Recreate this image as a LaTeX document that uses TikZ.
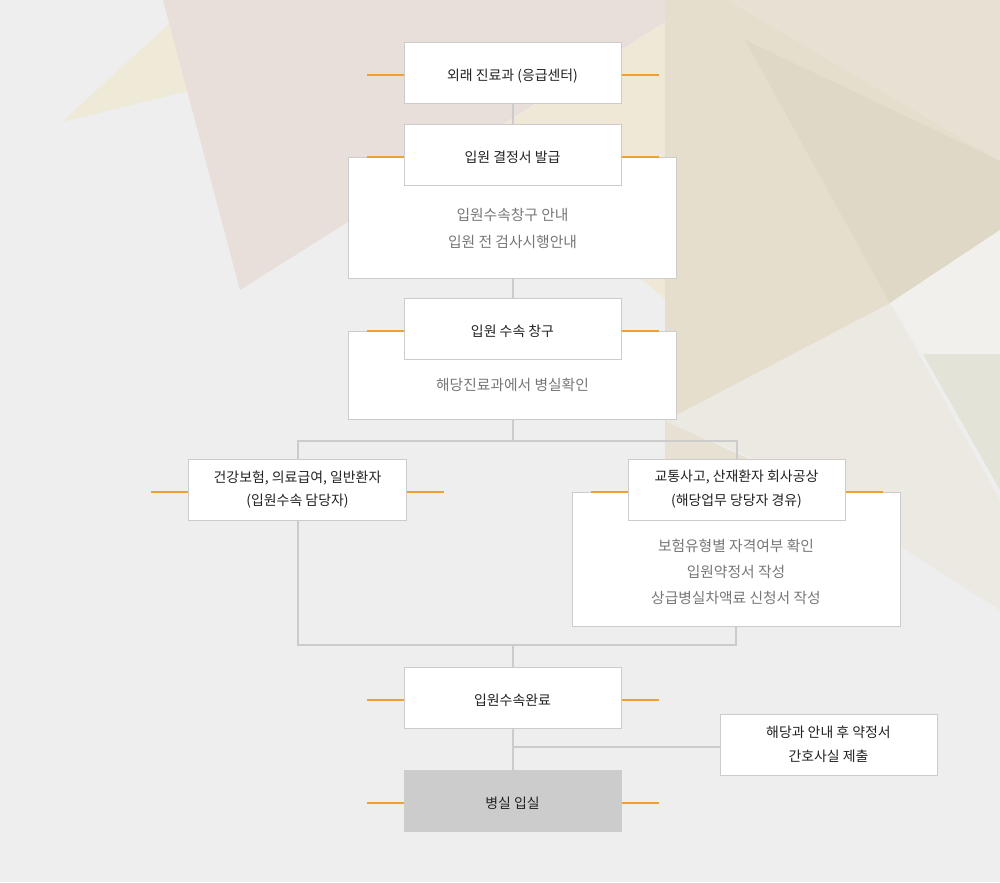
\documentclass[tikz,border=0pt]{standalone}
\usepackage{fontspec}
\setmainfont{Noto Sans CJK KR}
\usetikzlibrary{positioning,backgrounds,calc}

\definecolor{pagebg}{HTML}{EEEEEE}
\definecolor{boxline}{HTML}{CCCCCC}
\definecolor{tickorange}{HTML}{F0A030}
\definecolor{headtext}{HTML}{222222}
\definecolor{infogray}{HTML}{777777}
\definecolor{wardfill}{HTML}{CCCCCC}
\definecolor{creamA}{HTML}{EFE9D8}
\definecolor{pinkA}{HTML}{E8DFDB}
\definecolor{creamB}{HTML}{EFE8D7}
\definecolor{beigeA}{HTML}{E6DECD}
\definecolor{beigeB}{HTML}{E0D8C6}
\definecolor{beigeC}{HTML}{E7E1D4}
\definecolor{greyA}{HTML}{ECE9E3}
\definecolor{glare}{HTML}{F1F0EC}
\definecolor{sage}{HTML}{E3E4D7}

\begin{document}
\begin{tikzpicture}[
  x=0.25mm, y=-0.25mm,
  head/.style={rectangle, draw=boxline, line width=0.25mm, fill=#1,
               minimum width=54.25mm, minimum height=15.25mm, inner sep=2pt,
               align=center, text=headtext,
               font=\fontsize{9.9}{17}\selectfont},
  head/.default=white,
  oneline/.style={text height=1.3em, text depth=0.12em},
  info/.style={rectangle, draw=boxline, line width=0.25mm, fill=white,
               minimum width=82mm, minimum height=#1, anchor=north},
  infotext/.style={align=center, text=infogray,
                   font=\fontsize{10.5}{#1}\selectfont},
  infotext/.default=19pt,
  link/.style={line width=0.5mm, color=boxline},
  tick/.style={line width=0.3mm, color=tickorange},
  node distance=5mm
]
  % page and faint background facets
  \begin{scope}[on background layer]
    \fill[pagebg] (0,0) rectangle (1000,882);
    \fill[creamA] (62,122) -- (195,0) -- (560,0) -- cycle;
    \fill[pinkA] (163,0) -- (240,290) -- (700,0) -- cycle;
    \fill[creamB] (480,140) -- (700,0) -- (700,300) -- (666,300) -- cycle;
    \fill[greyA] (665,421) -- (890,303) -- (1000,500) -- (1000,610) -- (780,470) -- cycle;
    \fill[beigeC] (665,421) -- (767,467) -- (665,470) -- cycle;
    \fill[beigeA] (665,0) -- (1000,0) -- (1000,230) -- (890,303) -- (665,421) -- cycle;
    \fill[beigeC] (727,0) -- (1000,0) -- (1000,161) -- cycle;
    \fill[beigeB] (745,40) -- (1000,161) -- (1000,230) -- (890,303) -- cycle;
    \fill[glare] (890,303) -- (1000,230) -- (1000,354) -- (923,354) -- cycle;
    \fill[sage] (923,354) -- (1000,354) -- (1000,490) -- cycle;
  \end{scope}
  \useasboundingbox (0,0) rectangle (1000,882);

  % main column
  \node[head, oneline] (outpt) at (512.5,72.5) {외래 진료과 (응급센터)};
  \node[info=30.25mm] (decideinfo) at (512.5,157) {};
  \node[head, oneline] (decide) at (512.5,154.5) {입원 결정서 발급};
  \node[infotext] (decidetxt) at (512.5,228.5) {입원수속창구 안내\\입원 전 검사시행안내};

  \node[info=22mm] (deskinfo) at (512.5,331) {};
  \node[head, oneline] (desk) at (512.5,328.5) {입원 수속 창구};
  \node[infotext] (desktxt) at (512.5,385) {해당진료과에서 병실확인};

  % two branches
  \node[head] (insur) at (297.5,489.5) {건강보험, 의료급여, 일반환자\\(입원수속 담당자)};
  \node[info=33.5mm] (accidinfo) at (736,492) {};
  \node[head] (accid) at (736.5,489.5) {교통사고, 산재환자 회사공상\\(해당업무 당당자 경유)};
  \node[infotext=18.5pt] (accidtxt) at (736,572)
    {보험유형별 자격여부 확인\\입원약정서 작성\\상급병실차액료 신청서 작성};

  % end of the flow
  \node[head, oneline] (done) at (512.5,697.5) {입원수속완료};
  \node[head=wardfill, draw=wardfill, oneline, below=10.25mm of done] (ward) {병실 입실};
  \node[head] (memo) at (828.5,744.5) {해당과 안내 후 약정서\\간호사실 제출};

  \begin{scope}[on background layer]
    \draw[link] (outpt) -- (decide);
    \draw[link] (decideinfo) -- (desk);
    \draw[link] (deskinfo.south) -- ++(0,21) coordinate (split);
    \draw[link] (insur.north) |- (split) -| (accid.north);
    \draw[link] (done.north) -- ++(0,-22) coordinate (merge);
    \draw[link] (insur.south) |- (merge) -| (accidinfo.south);
    \draw[link] (done) -- (ward);
    \draw[link] ([yshift=-0.625mm]memo.west) -- ([yshift=-0.625mm]memo.west -| done.south);
  \end{scope}

  % short orange marks at the sides of each step
  \foreach \n in {outpt,decide,desk,insur,accid,done,ward} {
    \draw[tick] ([yshift=-0.625mm]\n.west) -- ++(-37,0);
    \draw[tick] ([yshift=-0.625mm]\n.east) -- ++(37,0);
  }
\end{tikzpicture}
\end{document}
